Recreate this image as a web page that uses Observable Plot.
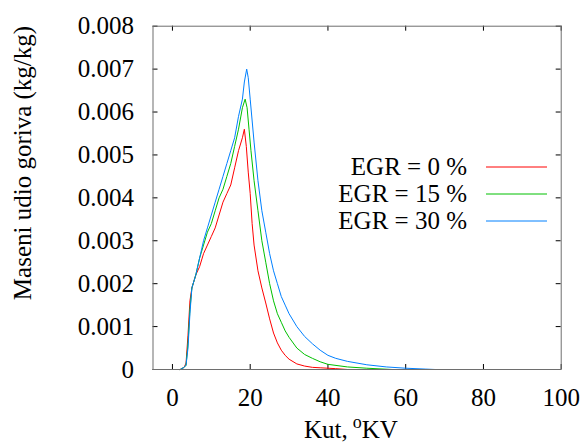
<!DOCTYPE html>
<html>
<head>
<meta charset="utf-8">
<script src="https://cdn.jsdelivr.net/npm/d3@7"></script>
<script src="https://cdn.jsdelivr.net/npm/@observablehq/plot@0.6"></script>
<style>
  html, body { margin: 0; padding: 0; background: #fff; }
  #chart svg { display: block; }
  #chart svg text { font-family: "Liberation Serif", "Times New Roman", serif; }
</style>
</head>
<body>
<div id="chart"></div>
<script>
// ---- data ----
const xTicks = [0, 20, 40, 60, 80, 100];
const yTicks = [0, 0.001, 0.002, 0.003, 0.004, 0.005, 0.006, 0.007, 0.008];
const seriesLabels = ["EGR = 0 %", "EGR = 15 %", "EGR = 30 %"];
const seriesColors = ["#ff0000", "#00c000", "#0080ff"];

const angleEgr0 = [2, 3, 3.5, 4, 4.5, 5, 6, 7, 8, 9, 10, 11, 12, 13, 14, 15, 16, 17, 18, 18.5, 19, 19.5, 20, 20.5, 21, 22, 23, 24, 25, 26, 27, 28, 29, 30, 32, 34, 36, 38, 40, 42, 45];
const fuelEgr0  = [0, 0.00005, 0.00015, 0.0008, 0.0016, 0.0019, 0.0022, 0.0024, 0.0027, 0.0029, 0.0031, 0.0033, 0.0036, 0.0039, 0.0041, 0.0043, 0.0047, 0.0051, 0.0054, 0.0056, 0.0052, 0.0046, 0.0041, 0.0034, 0.0029, 0.0023, 0.0019, 0.00155, 0.00118, 0.00085, 0.00062, 0.00045, 0.00033, 0.00024, 0.00013, 0.00008, 0.00005, 0.00004, 0.00003, 0.00002, 0];

const angleEgr15 = [2, 3, 3.5, 4, 4.5, 5, 6, 7, 8, 9, 10, 11, 12, 13, 14, 15, 16, 17, 18, 18.7, 19.2, 19.7, 20.2, 21, 22, 23, 24, 25, 26, 27, 28, 29, 30, 32, 34, 36, 38, 40, 45, 50, 56.5];
const fuelEgr15  = [0, 0.00005, 0.0001, 0.0006, 0.0014, 0.0019, 0.0022, 0.0026, 0.0029, 0.0032, 0.0034, 0.0037, 0.0040, 0.0042, 0.0045, 0.0048, 0.0052, 0.0056, 0.0061, 0.0063, 0.0061, 0.0056, 0.0051, 0.0044, 0.0037, 0.0030, 0.0025, 0.0020, 0.0016, 0.0013, 0.0011, 0.0009, 0.00075, 0.0005, 0.00035, 0.00026, 0.00018, 0.00012, 0.00006, 0.00003, 0];

const angleEgr30 = [2, 3, 3.5, 4, 4.5, 5, 6, 7, 8, 9, 10, 11, 12, 13, 14, 15, 16, 17, 18, 18.5, 19.1, 19.5, 20, 21, 22, 23, 24, 25, 26, 27, 28, 29, 30, 32, 34, 36, 38, 40, 42, 45, 50, 55, 60, 65, 67.6];
const fuelEgr30  = [0, 0.00005, 0.0001, 0.0005, 0.0013, 0.0019, 0.0022, 0.0026, 0.0030, 0.0033, 0.0036, 0.0039, 0.0042, 0.0045, 0.0048, 0.0051, 0.0054, 0.0059, 0.0063, 0.0067, 0.0070, 0.0068, 0.0063, 0.0053, 0.0044, 0.0037, 0.0032, 0.0027, 0.0023, 0.0020, 0.0017, 0.0015, 0.0013, 0.0010, 0.00077, 0.0006, 0.00045, 0.00033, 0.00026, 0.00019, 0.00011, 0.00006, 0.00003, 0.00001, 0];

const xTitle = ["Kut,", "o", "KV"];
const yTitle = "Maseni udio goriva (kg/kg)";

// ---- layout ----
const W = 584, H = 443;
const mL = 152.5, mR = 23.3, mT = 25.7, mB = 74;
const plotW = W - mL - mR, plotH = H - mT - mB;
const FONT = "Liberation Serif, Times New Roman, serif";

const toRows = (xs, ys) => xs.map((x, i) => ({x, y: ys[i]}));
const series = [toRows(angleEgr0, fuelEgr0), toRows(angleEgr15, fuelEgr15), toRows(angleEgr30, fuelEgr30)];

const chart = Plot.plot({
  width: W, height: H,
  marginLeft: mL, marginRight: mR, marginTop: mT, marginBottom: mB,
  style: {fontFamily: FONT, fontSize: "25px", color: "#000", background: "#fff", overflow: "visible"},
  x: {domain: [-5, 100]},
  y: {domain: [0, 0.008]},
  marks: [
    // inward ticks (bottom, top, left, right)
    Plot.gridX(xTicks, {stroke: "#000", strokeOpacity: 1, insetTop: plotH - 5}),
    Plot.gridX(xTicks, {stroke: "#000", strokeOpacity: 1, insetBottom: plotH - 5}),
    Plot.gridY(yTicks, {stroke: "#000", strokeOpacity: 1, insetRight: plotW - 5}),
    Plot.gridY(yTicks, {stroke: "#000", strokeOpacity: 1, insetLeft: plotW - 5}),
    Plot.axisX(xTicks, {tickSize: 0, tickPadding: 19, label: null, fontSize: 25, fontFamily: FONT}),
    Plot.axisY(yTicks, {tickSize: 0, tickPadding: 19, label: null, fontSize: 25, fontFamily: FONT,
      tickFormat: d => d === 0 ? "0" : d.toFixed(3)}),
    ...series.map((rows, i) => Plot.line(rows, {x: "x", y: "y", stroke: seriesColors[i], strokeWidth: 1})),
    Plot.frame({stroke: "#6e6e6e", strokeWidth: 1})
  ]
});

document.getElementById("chart").appendChild(chart);

// ---- titles and legend (real text) ----
const svg = d3.select(chart);

svg.append("text")
  .attr("transform", "translate(31,163) rotate(-90)")
  .attr("text-anchor", "middle")
  .attr("font-family", FONT).attr("font-size", 25).attr("fill", "#000")
  .text(yTitle);

const xt = svg.append("text")
  .attr("x", 351).attr("y", 438)
  .attr("text-anchor", "middle")
  .attr("font-family", FONT).attr("font-size", 25).attr("fill", "#000");
xt.append("tspan").text(xTitle[0]);
xt.append("tspan").attr("dx", 5).attr("dy", -10).attr("font-size", 18).text(xTitle[1]);
xt.append("tspan").attr("dy", 10).text(xTitle[2]);

const legendBase = [175, 202, 229];
seriesLabels.forEach((lab, i) => {
  svg.append("text")
    .attr("x", 467).attr("y", legendBase[i])
    .attr("text-anchor", "end")
    .attr("font-family", FONT).attr("font-size", 25).attr("fill", "#000")
    .text(lab);
  svg.append("line")
    .attr("x1", 486).attr("x2", 547)
    .attr("y1", legendBase[i] - 8).attr("y2", legendBase[i] - 8)
    .attr("stroke", seriesColors[i]).attr("stroke-width", 1);
});
</script>
</body>
</html>
